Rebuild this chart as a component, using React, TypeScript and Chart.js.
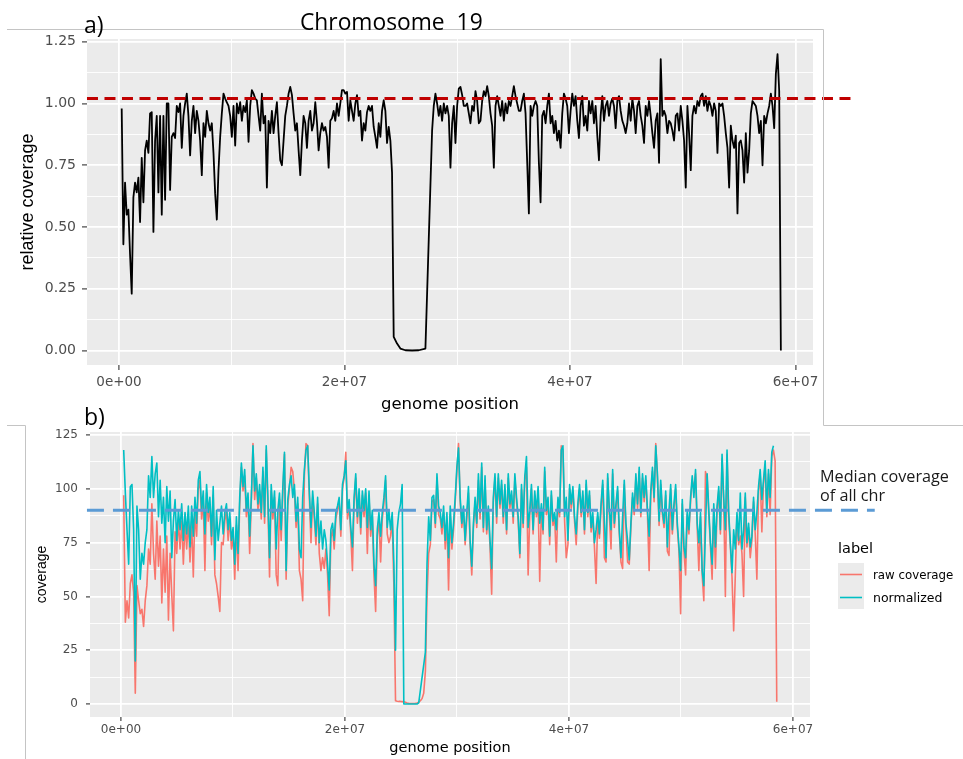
import React, { useEffect, useRef } from "react";
import { Chart, registerables } from "chart.js";

Chart.register(...registerables);

// Chromosome 19 coverage as a fixed-step track (window start and step, in Mb)
const BIN_START_MB = 0.24;
const BIN_STEP_MB = 0.148;

// a) relative coverage per window (null = window without data)
const relativeCoverage: (number | null)[] = [
  0.98, 0.43, 0.68, 0.55, 0.57, 0.39, 0.23, 0.62, 0.68, 0.64,
  0.70, 0.52, 0.78, 0.60, 0.81, 0.85, 0.80, 0.96, 0.965, 0.48,
  0.85, 0.95, 0.64, 0.95, 0.55, 0.95, 0.61, 1.00, 1.00, 0.65,
  0.865, 0.88, 0.86, 0.99, 0.965, 1.00, 0.82, 0.95, 1.00, 1.04,
  0.95, 0.79, 0.93, 0.99, 0.88, 0.97, 0.93, 0.85, 0.71, 0.92,
  0.865, 0.97, 0.92, 0.89, 0.92, 0.80, 0.635, 0.53, 0.73, 0.865,
  0.96, 1.04, 1.02, 1.005, 0.99, 0.95, 0.865, 0.99, 0.83, 1.00,
  0.96, 1.005, 0.93, 0.99, 0.965, 1.013, 0.845, 0.99, 1.054, 1.04,
  1.02, 1.013, 0.95, 0.89, 1.04, 0.92, 0.95, 0.66, 0.93, 0.88,
  0.97, 0.88, 0.95, 1.005, 0.88, 0.77, 0.75, 0.85, 0.95, 0.99,
  1.04, 1.067, 1.035, 0.96, 0.89, 0.92, 0.81, 0.71, 0.85, 0.95,
  0.92, 0.82, 0.93, 0.97, 0.89, 0.92, 1.005, 0.925, 0.81, 0.88,
  0.92, 0.89, 0.905, 0.865, 0.74, 0.93, 0.94, 0.97, 0.93, 1.00,
  0.95, 1.00, 1.054, 1.054, 1.04, 1.047, 0.93, 1.013, 0.97, 0.93,
  1.00, 1.034, 0.95, 0.97, 0.85, 0.92, 0.89, 0.965, 0.99, 0.97,
  0.99, 0.905, 0.865, 0.82, 0.92, 0.865, 0.97, 1.013, 0.97, 0.84,
  0.905, 0.85, 0.72, 0.055, null, 0.028, null, 0.008, null, null,
  0.001, null, null, null, 0.0, null, null, null, 0.001, null,
  null, null, 0.008, null, 0.45, null, 0.89, 0.99, 1.04, 1.00,
  0.95, 0.99, 0.93, 1.00, 0.96, 0.99, 0.95, 0.74, 0.92, 0.99,
  0.84, 0.99, 1.06, 1.067, 1.035, 0.99, 0.99, 1.00, 0.96,
  0.92, 0.99, 0.97, 1.05, 1.01, 0.92, 0.93, 1.01, 1.05, 1.03,
  1.07, 1.03, 0.96, 0.91, 0.74, 0.99, 1.03, 0.99, 0.95, 1.01,
  0.93, 1.00, 0.96, 1.01, 0.99, 1.03, 1.07, 1.03, 1.00, 0.97,
  0.97, 1.01, 1.04, 0.96, 0.76, 0.555, 0.99, 0.95, 0.99, 1.01,
  0.99, 0.76, 0.60, 0.95, 0.97, 0.92, 0.99, 1.04, 0.92, 0.95,
  0.88, 0.93, 0.85, 0.89, 0.82, 0.96, 1.04, 1.02, 0.99, 0.88,
  0.97, 1.04, 0.99, 1.03, 0.93, 0.86, 0.99, 1.03, 0.91, 0.95,
  0.89, 1.01, 0.96, 1.01, 0.92, 0.99, 0.87, 0.77, 0.95, 1.03,
  0.93, 0.99, 1.01, 0.95, 1.00, 1.02, 0.99, 0.90, 1.01, 1.03,
  0.97, 0.93, 0.91, 0.88, 0.92, 1.00, 0.93, 1.02, 0.97, 0.88,
  0.99, 1.01, 0.95, 0.91, 0.84, 0.99, 0.95, 1.01, 0.95, 0.88,
  0.82, 0.93, 0.96, 0.76, 1.18, 0.95, 0.97, 0.95, 0.88, 0.93,
  0.92, 0.89, 0.85, 0.95, 0.96, 0.89, 0.99, 0.93, 0.85, 0.66,
  0.99, 0.88, 0.73, 0.95, 0.99, 0.96, 1.01, 0.99, 1.03, 1.04,
  0.99, 1.03, 0.97, 1.01, 0.99, 0.95, 1.00, 0.97, 0.80, 1.00,
  0.99, 1.00, 0.95, 0.88, 0.82, 0.66, 0.91, 0.85, 0.82, 0.87,
  0.555, 0.84, 0.85, 0.81, 0.68, 0.88, 0.72, 0.81, 0.96, 1.01,
  1.00, 0.99, 0.95, 0.88, 0.93, 0.75, 0.95, 0.92, 0.96, 0.99,
  1.04, 0.99, 0.90, 1.12, 1.20, 1.05, 0.00,
];

// b) normalized coverage per window
const normalizedCoverage: (number | null)[] = [
  118, 98, 81, 65, 101, 102, 81, 20, 92, 81,
  58, 70, 65, 75, 81, 106, 96, 115, 96, 107,
  112, 87, 104, 84, 96, 75, 101, 85, 99, 68,
  85, 95, 76, 90, 81, 93, 76, 89, 79, 92,
  73, 92, 78, 96, 84, 104, 108, 90, 99, 79,
  102, 89, 96, 78, 101, 67, 90, 76, 84, 92,
  79, 89, 93, 81, 89, 76, 82, 65, 87, 70,
  96, 112, 101, 109, 90, 98, 78, 96, 120, 99,
  107, 93, 102, 89, 110, 87, 120, 96, 68, 102,
  89, 99, 72, 90, 98, 81, 101, 117, 62, 95,
  102, 106, 96, 102, 85, 96, 72, 68, 96, 109,
  118, 120, 99, 82, 99, 89, 78, 96, 75, 85,
  72, 81, 76, 65, 53, 81, 84, 76, 89, 92,
  96, 81, 102, 106, 113, 89, 95, 82, 73, 96,
  107, 87, 100, 82, 99, 90, 100, 82, 99, 81,
  90, 65, 55, 81, 89, 78, 89, 96, 106, 82,
  90, 81, 89, 65, 25, 81, 89, 93, 102, 0,
  0, 0, 0, 0, 0, 0, 0, 0, 0.5, null,
  null, null, 24, 65, 87, 76, 96, 97, 84, 107,
  92, 89, 82, 92, 76, 89, 68, 92, 75, 84,
  96, 110, 119, 96, 84, 92, 76, 89, 101, 76,
  64, 84, 96, 84, 107, 89, 112, 82, 106, 81,
  92, 76, 63, 96, 107, 87, 107, 93, 104, 87,
  102, 81, 107, 93, 99, 87, 107, 96, 87, 70,
  102, 84, 106, 115, 82, 90, 102, 81, 99, 89,
  101, 84, 93, 81, 110, 90, 96, 78, 99, 85,
  89, 81, 96, 89, 118, 120, 87, 96, 76, 102,
  93, 101, 87, 79, 93, 102, 89, 99, 81, 104,
  89, 99, 82, 89, 75, 81, 89, 79, 93, 104,
  85, 68, 107, 90, 81, 109, 84, 93, 101, 81,
  68, 87, 104, 84, 76, 67, 84, 98, 90, 107,
  93, 110, 89, 107, 96, 106, 90, 78, 99, 110,
  96, 120, 107, 85, 104, 90, 84, 99, 73, 90,
  102, 81, 93, 102, 84, 73, 62, 95, 73, 68,
  90, 81, 96, 106, 96, 109, 84, 75, 89, 62,
  55, 81, 107, 90, 75, 65, 93, 73, 92, 101,
  81, 116, 96, 81, 118, 89, 75, 61, 81, 72,
  89, 76, 98, 72, 81, 98, 75, 84, 73, 78,
  96, 81, 89, 101, 109, 95, 104, 113, 89, 109,
  96, 117, 120, null, null,
];

// b) raw coverage per window
const rawCoverage: number[] = [
  97, 38, 48, 40, 56, 60, 52, 5, 55, 48,
  42, 44, 36, 48, 55, 72, 65, 93, 70, 58,
  85, 64, 78, 47, 72, 52, 78, 39, 70, 51,
  34, 80, 70, 86, 72, 85, 65, 84, 72, 86,
  66, 85, 59, 90, 78, 100, 104, 86, 95, 62,
  98, 85, 92, 74, 97, 60, 56, 50, 43, 75,
  74, 85, 90, 76, 86, 72, 78, 58, 83, 62,
  93, 110, 99, 106, 87, 95, 70, 94, 121, 95,
  105, 90, 99, 86, 108, 84, 118, 92, 59, 99,
  86, 96, 60, 55, 95, 76, 98, 116, 58, 92,
  100, 110, 108, 99, 82, 93, 62, 58, 48, 106,
  121, 120, 96, 75, 96, 86, 74, 93, 70, 62,
  68, 63, 72, 60, 41, 77, 81, 72, 86, 90,
  94, 78, 100, 105, 117, 86, 92, 79, 62, 93,
  105, 84, 98, 79, 97, 87, 98, 70, 96, 78,
  87, 60, 43, 78, 86, 66, 86, 93, 104, 79,
  75, 78, 86, 55, 1.5, 1.3, 1.2, 1.2, 1.1, 1.0,
  0.8, 0.5, 0.3, 0.2, 0.2, 0.2, 0.3, 0.5, 0.8, 1.5,
  2.5, 5, 15, 50, 70, 74, 94, 95, 82, 105,
  88, 86, 79, 89, 72, 86, 53, 88, 72, 81,
  93, 108, 121, 94, 82, 90, 74, 86, 98, 74,
  60, 82, 94, 82, 104, 86, 110, 80, 104, 79,
  90, 73, 51, 94, 105, 84, 105, 91, 102, 84,
  100, 79, 105, 91, 97, 84, 105, 94, 85, 68,
  100, 82, 104, 110, 60, 88, 100, 79, 97, 87,
  95, 57, 91, 79, 108, 88, 94, 74, 97, 83,
  87, 66, 94, 87, 120, 118, 85, 68, 74, 100,
  91, 99, 85, 74, 91, 100, 87, 97, 79, 102,
  87, 97, 80, 87, 73, 56, 87, 77, 91, 102,
  68, 66, 105, 88, 72, 107, 82, 91, 99, 79,
  66, 63, 102, 82, 66, 65, 82, 96, 88, 105,
  91, 108, 87, 105, 94, 104, 88, 62, 97, 108,
  94, 121, 105, 83, 102, 88, 82, 97, 71, 69,
  100, 79, 91, 100, 82, 71, 42, 93, 71, 60,
  88, 79, 94, 104, 100, 107, 82, 62, 87, 60,
  48, 108, 105, 88, 73, 58, 91, 63, 90, 99,
  79, 114, 94, 50, 116, 87, 73, 59, 34, 60,
  87, 74, 78, 70, 50, 96, 73, 82, 68, 76,
  94, 79, 58, 99, 107, 80, 102, 111, 87, 107,
  88, 115, 118, 113, 1,
];

const relativeMedian = 1.02;
const allChrMedian = 90;

const positionTicks = [0, 1e7, 2e7, 3e7, 4e7, 5e7, 6e7];
const positionTickLabels = ["0e+00", "", "2e+07", "", "4e+07", "", "6e+07"];
const relativeTicks = [0, 0.125, 0.25, 0.375, 0.5, 0.625, 0.75, 0.875, 1, 1.125, 1.25];
const relativeTickLabels = ["0.00", "", "0.25", "", "0.50", "", "0.75", "", "1.00", "", "1.25"];
const coverageTicks = [0, 12.5, 25, 37.5, 50, 62.5, 75, 87.5, 100, 112.5, 125];
const coverageTickLabels = ["0", "", "25", "", "50", "", "75", "", "100", "", "125"];

const seriesNames = ["raw coverage", "normalized"];
const RAW_COLOR = "#F8766D";
const NORM_COLOR = "#00BFC4";

const AXIS_FONT = '"DejaVu Sans", sans-serif';
const TITLE_FONT = '"Liberation Sans", Arial, sans-serif';
const NOTE_FONT = '"Open Sans", "Noto Sans", sans-serif';

const toPoints = (values: (number | null)[]) =>
  values.map((v, i) => ({ x: (BIN_START_MB + i * BIN_STEP_MB) * 1e6, y: v }));

// grey ggplot-style panel behind the grid
const panelBackground = {
  id: "panelBackground",
  beforeDraw(chart: any) {
    const { ctx, chartArea: a } = chart;
    ctx.save();
    ctx.fillStyle = "#EBEBEB";
    ctx.fillRect(a.left, a.top, a.right - a.left, a.bottom - a.top);
    ctx.restore();
  },
};

type AxisOpts = {
  ticks: number[];
  labels: string[];
  min: number;
  max: number;
  vertical: boolean;
  size: number;
  fontSize: number;
  tickLength: number;
  tickPadding: number;
  title: string;
  titleFont: string;
  titleSize: number;
  titlePadding: any;
};

function ggAxis(o: AxisOpts) {
  const major = (i: number) => o.labels[i] !== "";
  return {
    type: "linear",
    min: o.min,
    max: o.max,
    afterBuildTicks: (s: any) => {
      s.ticks = o.ticks.map((value) => ({ value }));
    },
    afterFit: (s: any) => {
      if (o.vertical) s.width = o.size;
      else s.height = o.size;
      // the panel edges are fixed; labels may overhang them
      s.paddingTop = 0;
      s.paddingBottom = 0;
      s.paddingLeft = 0;
      s.paddingRight = 0;
    },
    ticks: {
      autoSkip: false,
      maxRotation: 0,
      minRotation: 0,
      color: "#4D4D4D",
      padding: o.tickPadding,
      font: { family: AXIS_FONT, size: o.fontSize },
      callback: (_v: any, i: number) => o.labels[i],
    },
    grid: {
      color: "#FFFFFF",
      lineWidth: (c: any) => (major(c.index) ? 1.8 : 0.9),
      drawTicks: true,
      tickLength: o.tickLength,
      tickWidth: 1.1,
      tickColor: (c: any) => (major(c.index) ? "#333333" : "rgba(0,0,0,0)"),
    },
    border: { display: false },
    title: {
      display: true,
      text: o.title,
      color: "#000000",
      font: { family: o.titleFont, size: o.titleSize },
      padding: o.titlePadding,
    },
  };
}

const baseOptions = {
  responsive: false,
  maintainAspectRatio: false,
  animation: false,
  events: [],
  plugins: { legend: { display: false }, tooltip: { enabled: false } },
};

function relativeConfig(): any {
  return {
    type: "line",
    data: {
      datasets: [
        {
          data: [
            { x: -2.84e6, y: relativeMedian },
            { x: 65.45e6, y: relativeMedian },
          ],
          borderColor: "#C00000",
          borderWidth: 3,
          borderDash: [11, 6.5],
          pointRadius: 0,
          clip: false,
        },
        {
          data: toPoints(relativeCoverage),
          borderColor: "#000000",
          borderWidth: 1.8,
          borderJoinStyle: "round",
          pointRadius: 0,
          spanGaps: true,
        },
      ],
    },
    options: {
      ...baseOptions,
      layout: { padding: { top: 9, right: 57, left: 0, bottom: 0 }, autoPadding: false },
      scales: {
        x: ggAxis({
          ticks: positionTicks,
          labels: positionTickLabels,
          min: -2.838e6,
          max: 61.55e6,
          vertical: false,
          size: 60,
          fontSize: 13.5,
          tickLength: 5,
          tickPadding: 4,
          title: "genome position",
          titleFont: AXIS_FONT,
          titleSize: 16.5,
          titlePadding: { top: 0, bottom: 10 },
        }),
        y: ggAxis({
          ticks: relativeTicks,
          labels: relativeTickLabels,
          min: -0.0587,
          max: 1.2611,
          vertical: true,
          size: 87,
          fontSize: 14,
          tickLength: 5,
          tickPadding: 6,
          title: "relative coverage",
          titleFont: TITLE_FONT,
          titleSize: 18,
          titlePadding: { top: 17, bottom: 0 },
        }),
      },
    },
    plugins: [panelBackground],
  };
}

function coverageConfig(): any {
  return {
    type: "line",
    data: {
      datasets: [
        {
          data: [
            { x: -3.04e6, y: allChrMedian },
            { x: 67.3e6, y: allChrMedian },
          ],
          borderColor: "#5B9BD5",
          borderWidth: 3,
          borderDash: [17, 9],
          pointRadius: 0,
          clip: false,
        },
        {
          label: seriesNames[1],
          data: toPoints(normalizedCoverage),
          borderColor: NORM_COLOR,
          borderWidth: 1.6,
          borderJoinStyle: "round",
          pointRadius: 0,
          spanGaps: true,
        },
        {
          label: seriesNames[0],
          data: toPoints(rawCoverage),
          borderColor: RAW_COLOR,
          borderWidth: 1.6,
          borderJoinStyle: "round",
          pointRadius: 0,
        },
      ],
    },
    options: {
      ...baseOptions,
      layout: { padding: { top: 7, right: 90, left: 0, bottom: 0 }, autoPadding: false },
      scales: {
        x: ggAxis({
          ticks: positionTicks,
          labels: positionTickLabels,
          min: -2.768e6,
          max: 61.52e6,
          vertical: false,
          size: 42,
          fontSize: 12,
          tickLength: 4,
          tickPadding: 2,
          title: "genome position",
          titleFont: AXIS_FONT,
          titleSize: 14.5,
          titlePadding: { top: 0, bottom: 2 },
        }),
        y: ggAxis({
          ticks: coverageTicks,
          labels: coverageTickLabels,
          min: -6.04,
          max: 126.4,
          vertical: true,
          size: 90,
          fontSize: 12,
          tickLength: 4,
          tickPadding: 8,
          title: "coverage",
          titleFont: TITLE_FONT,
          titleSize: 14,
          titlePadding: { top: 34, bottom: 0 },
        }),
      },
    },
    plugins: [panelBackground],
  };
}

export default function App() {
  const relRef = useRef<HTMLCanvasElement>(null);
  const covRef = useRef<HTMLCanvasElement>(null);

  useEffect(() => {
    const rel = new Chart(relRef.current as HTMLCanvasElement, relativeConfig());
    const cov = new Chart(covRef.current as HTMLCanvasElement, coverageConfig());
    return () => {
      rel.destroy();
      cov.destroy();
    };
  }, []);

  return (
    <div
      style={{
        position: "absolute",
        left: 0,
        top: 0,
        width: 963,
        height: 759,
        background: "#FFFFFF",
        overflow: "hidden",
      }}
    >
      <canvas
        ref={relRef}
        width={870}
        height={395}
        style={{ position: "absolute", left: 0, top: 30, width: 870, height: 395 }}
      />
      <canvas
        ref={covRef}
        width={900}
        height={334}
        style={{ position: "absolute", left: 0, top: 425, width: 900, height: 334 }}
      />
      <svg
        width={963}
        height={759}
        style={{ position: "absolute", left: 0, top: 0, pointerEvents: "none" }}
      >
        <g stroke="#C4C4C4" strokeWidth={1}>
          <line x1={7} y1={29.5} x2={823.5} y2={29.5} />
          <line x1={823.5} y1={29.5} x2={823.5} y2={425.5} />
          <line x1={7} y1={425.5} x2={25.5} y2={425.5} />
          <line x1={823.5} y1={425.5} x2={963} y2={425.5} />
          <line x1={25.5} y1={425.5} x2={25.5} y2={759} />
        </g>
        <g fontFamily={NOTE_FONT} fill="#000000">
          <text x={84} y={33} fontSize={23}>a)</text>
          <text x={300} y={29.5} fontSize={22.8} wordSpacing={6}>Chromosome 19</text>
          <text x={84} y={425} fontSize={23}>b)</text>
          <text x={820} y={481.5} fontSize={16.2} fill="#1A1A1A">Median coverage</text>
          <text x={820} y={500.5} fontSize={16.2} fill="#1A1A1A">of all chr</text>
        </g>
        <g fontFamily={AXIS_FONT} fill="#000000">
          <text x={838} y={553} fontSize={14.5}>label</text>
          <rect x={838} y={563} width={26} height={23} fill="#EBEBEB" />
          <rect x={838} y={586} width={26} height={23} fill="#EBEBEB" />
          <line x1={840} y1={574.5} x2={862} y2={574.5} stroke={RAW_COLOR} strokeWidth={1.6} />
          <line x1={840} y1={597.5} x2={862} y2={597.5} stroke={NORM_COLOR} strokeWidth={1.6} />
          <text x={873} y={579} fontSize={11.8}>{seriesNames[0]}</text>
          <text x={873} y={602} fontSize={12.5}>{seriesNames[1]}</text>
        </g>
      </svg>
    </div>
  );
}
